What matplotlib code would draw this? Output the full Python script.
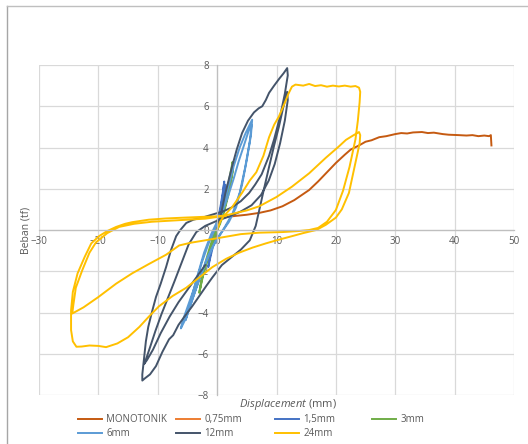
import matplotlib.pyplot as plt
import matplotlib as mpl
from matplotlib.lines import Line2D

mpl.rcParams['font.family'] = ['Open Sans', 'DejaVu Sans']
mpl.rcParams['mathtext.fontset'] = 'custom'
mpl.rcParams['mathtext.it'] = 'Open Sans:italic'
mpl.rcParams['mathtext.rm'] = 'Open Sans'

# ---- data: displacement (mm) vs load (tf) ----
mono_x = [0, 0.3, 0.8, 1.5, 3, 5, 7.1, 9, 11, 13, 15.5, 17, 18.5, 20, 21.5, 22.5, 23.9, 25,
          26, 27.3, 28.5, 30, 31, 32, 33, 34.5, 35.5, 36.5, 38, 39, 40.7, 42, 43, 44, 45,
          45.8, 46.1, 46.2]
mono_y = [0, 0.35, 0.55, 0.63, 0.68, 0.74, 0.83, 0.95, 1.15, 1.45, 1.94, 2.35, 2.8, 3.25, 3.65,
          3.9, 4.1, 4.28, 4.35, 4.5, 4.55, 4.65, 4.7, 4.68, 4.73, 4.75, 4.7, 4.72, 4.65, 4.62,
          4.6, 4.58, 4.6, 4.55, 4.58, 4.55, 4.6, 4.1]

c075_x = [0, 0.15, 0.3, 0.4, 0.25, 0.05, -0.15, -0.3, -0.25, -0.1, 0.05, 0.2, 0.35, 0.3,
          0.1, -0.1, -0.25]
c075_y = [0, 0.3, 0.55, 0.65, 0.4, 0.1, -0.2, -0.45, -0.3, -0.1, 0.1, 0.35, 0.55, 0.45,
          0.15, -0.15, -0.4]

c15_x = [0, 0.3, 0.7, 1.0, 1.2, 1.0, 0.6, 0.2, -0.3, -0.8, -1.2, -1.5, -1.2, -0.7, -0.2,
         0.3, 0.8, 1.2, 1.4, 1.1, 0.6, 0.1, -0.5, -1.0, -1.4]
c15_y = [0, 0.5, 1.2, 1.8, 2.35, 1.9, 1.2, 0.6, 0.1, -0.5, -1.1, -1.8, -1.4, -0.8, -0.2,
         0.4, 1.0, 1.7, 2.2, 1.6, 0.9, 0.3, -0.4, -1.0, -1.6]

c3_x = [0, 0.5, 1.0, 1.5, 2.0, 2.6, 2.5, 2.0, 1.4, 0.8, 0.2, -0.5, -1.2, -2.0, -2.6, -3.0,
        -2.6, -2.0, -1.3, -0.6, 0, 0.6, 1.2, 1.8, 2.3, 2.7, 2.5, 1.9, 1.2, 0.5, -0.3, -1.0,
        -1.8, -2.5, -2.9]
c3_y = [0, 0.6, 1.2, 1.8, 2.4, 3.3, 2.9, 2.0, 1.2, 0.6, 0.2, -0.2, -0.8, -1.6, -2.3, -3.05,
        -2.5, -1.8, -1.1, -0.5, 0, 0.5, 1.1, 1.8, 2.4, 3.0, 2.6, 1.7, 0.9, 0.3, -0.2, -0.8,
        -1.6, -2.3, -2.9]

c6_x = [0, 0.8, 1.8, 2.8, 3.8, 4.8, 5.9, 5.7, 5.0, 4.2, 3.2, 2.0, 0.8, -0.5, -1.8, -3.0,
        -4.2, -5.3, -6.1, -5.8, -4.7, -3.6, -2.6, -1.5, -0.3, 0.8, 1.8, 2.8, 3.6, 4.4, 5.3,
        5.8, 5.5, 4.7, 3.8, 2.6, 1.2, -0.2, -1.6, -2.9, -4.1, -5.3, -4.6, -3.4, -2.2, -1.0, 0]
c6_y = [0, 0.9, 2.0, 3.1, 4.0, 4.7, 5.35, 4.6, 3.4, 2.2, 1.1, 0.4, -0.1, -0.7, -1.5, -2.4,
        -3.4, -4.3, -4.77, -4.4, -3.5, -2.6, -1.6, -0.7, 0.1, 0.8, 1.6, 2.5, 3.3, 4.0, 4.8,
        5.1, 4.3, 3.0, 1.8, 0.8, 0.1, -0.5, -1.3, -2.3, -3.3, -4.37, -3.6, -2.3, -1.1, -0.2,
        0.4]

c12_x = [0, 0.6, 1.4, 2.5, 3.3, 4.2, 5.2, 6.2, 7.0, 7.6, 8.2, 8.75, 9.6, 10.5, 11.2, 11.8,
         11.9, 11.4, 10.6, 9.6, 8.75, 7.5, 6.4, 5.4, 4.0, 2.5, 1.0, -0.2, -2.5, -4.0, -5.2,
         -6.2, -6.9, -7.8, -8.6, -9.5, -10.3, -11.0, -11.6, -12.0, -12.3, -12.6, -12.6,
         -12.2, -11.3, -10.3, -9.2, -8.1, -7.4, -6.5, -5.5, -4.2, -3.0, -1.8, -0.8, 0.8, 2.5,
         4.0, 5.5, 6.5, 7.1, 7.9, 8.75, 9.6, 10.4, 11.1, 11.8,
         11.9, 11.4, 10.6, 9.7, 8.7, 7.4, 5.8, 4.0, 2.0, 0, -2.0, -3.5, -4.8, -6.0, -7.2,
         -8.3, -9.4, -10.4, -11.2, -11.9, -12.3, -11.8, -10.8, -9.5, -8.0, -6.5, -5.0, -3.5,
         -2.0]
c12_y = [0, 0.7, 1.8, 3.06, 3.9, 4.7, 5.3, 5.7, 5.9, 6.0, 6.3, 6.65, 7.0, 7.35, 7.6, 7.85,
         7.5, 6.6, 5.5, 4.4, 3.6, 2.7, 2.2, 1.8, 1.4, 1.1, 0.9, 0.8, 0.6, 0.5, 0.34, 0.0,
         -0.3, -1.0, -1.8, -2.6, -3.25, -4.0, -4.7, -5.4, -6.2, -7.0, -7.3,
         -7.2, -7.0, -6.6, -5.9, -5.3, -5.1, -4.6, -4.2, -3.7, -3.2, -2.7, -2.3, -1.7, -1.3,
         -0.95, -0.5, 0.2, 0.97, 2.0, 3.06, 4.1, 5.0, 5.9, 6.7,
         6.3, 5.3, 4.2, 3.2, 2.4, 1.7, 1.2, 0.9, 0.65, 0.45, 0.2, -0.1, -0.7, -1.6, -2.5,
         -3.3, -4.1, -4.9, -5.6, -6.2, -6.5, -6.3, -5.8, -5.0, -4.2, -3.5, -2.9, -2.3, -1.7]

c24_x = [0, 0.5, 1.2, 2.5, 4.2, 5.5, 6.6, 7.8, 8.75, 9.6, 10.4, 11.3, 12.0, 12.6, 13.2, 14.5,
         15.5, 16.5, 17.5, 18.5, 19.5, 20.5, 21.5, 22.5, 23.3, 23.9, 24.1,
         24.0, 23.7, 23.3, 22.3, 21.2, 20.0, 18.5, 17.0, 15.5, 13.8, 11.0, 7.1, 4.0, 1.0,
         -2.0, -4.5, -6.4, -8.6, -11.5, -14.3, -17.0, -20.0, -22.5, -24.4,
         -24.2, -23.8, -22.7, -21.5, -20.4, -18.5, -16.5, -14.0, -11.0, -8.0, -5.0, -2.0, 0.5,
         2.5, 5.0, 7.1, 10.0, 12.6, 15.5, 18.3, 20.5, 21.7, 23.0, 23.9, 24.1,
         24.0, 23.4, 22.2, 21.0, 20.0, 18.3, 16.7, 14.5, 12.6, 10.0, 8.2, 6.0, 3.7, 1.5, -0.8,
         -3.0, -5.2, -7.5, -9.8, -11.5, -13.1, -15.0, -16.8, -18.7, -20.0, -21.5, -22.8,
         -23.7, -24.3, -24.6,
         -24.6, -24.3, -23.5, -22.3, -21.2, -19.9, -18.5, -17.0, -15.5, -14.3, -11.5, -8.6,
         -5.5, -3.0, -0.5, 1.5]
c24_y = [0, 0.4, 0.7, 1.1, 1.8, 2.4, 2.8, 3.6, 4.5, 5.1, 5.5, 6.1, 6.6, 6.95, 7.05, 7.0,
         7.08, 6.98, 7.02, 6.95, 7.0, 6.96, 7.0, 6.95, 6.98, 6.9, 6.7,
         6.2, 5.3, 4.4, 3.06, 1.9, 0.97, 0.4, 0.1, 0.0, -0.05, -0.1, -0.13, -0.2, -0.35,
         -0.5, -0.62, -0.75, -1.2, -1.65, -2.1, -2.6, -3.25, -3.75, -4.05,
         -3.6, -2.8, -1.94, -1.1, -0.6, -0.15, 0.15, 0.3, 0.4, 0.45, 0.5, 0.55, 0.65,
         0.78, 0.95, 1.15, 1.6, 2.1, 2.75, 3.5, 4.05, 4.37, 4.6, 4.75, 4.6,
         4.2, 3.4, 1.8, 1.0, 0.6, 0.25, 0.0, -0.15, -0.3, -0.5, -0.65, -0.85, -1.1, -1.4, -1.8,
         -2.3, -2.8, -3.2, -3.7, -4.2, -4.7, -5.2, -5.5, -5.68, -5.62, -5.6, -5.65,
         -5.66, -5.4, -4.85,
         -3.9, -3.0, -2.1, -1.3, -0.65, -0.3, -0.05, 0.15, 0.3, 0.38, 0.5, 0.56,
         0.6, 0.63, 0.66, 0.7]

series = [
    ('MONOTONIK', mono_x, mono_y, '#C55A11'),
    ('0,75mm', c075_x, c075_y, '#ED7D31'),
    ('1,5mm', c15_x, c15_y, '#4472C4'),
    ('3mm', c3_x, c3_y, '#70AD47'),
    ('6mm', c6_x, c6_y, '#5B9BD5'),
    ('12mm', c12_x, c12_y, '#44546A'),
    ('24mm', c24_x, c24_y, '#FFC000'),
]

fig = plt.figure(figsize=(5.28, 4.44), dpi=100)
ax = fig.add_axes([39 / 528, 1 - 395 / 444, 475 / 528, 330 / 444])

handles = {}
for name, xs, ys, col in series:
    h, = ax.plot(xs, ys, color=col, lw=1.4, label=name, solid_joinstyle='round')
    handles[name] = h

ax.set_xlim(-30, 50)
ax.set_ylim(-8, 8)
ax.set_xticks(range(-30, 51, 10))
ax.set_yticks(range(-8, 9, 2))
ax.grid(True, color='#D9D9D9', lw=0.9)
ax.set_axisbelow(True)

for s in ['top', 'right']:
    ax.spines[s].set_visible(False)
ax.spines['left'].set_position(('data', 0))
ax.spines['bottom'].set_position(('data', 0))
for s in ['left', 'bottom']:
    ax.spines[s].set_color('#BFBFBF')
    ax.spines[s].set_linewidth(0.9)
ax.tick_params(axis='both', length=0, labelsize=7, labelcolor='#595959')
ax.tick_params(axis='y', pad=6)
ax.tick_params(axis='x', pad=4)

ax.set_xlabel(r'$\it{Displacement}$ (mm)', fontsize=8, color='#595959')
ax.xaxis.set_label_coords(0.525, -0.006)
ax.set_ylabel('Beban (tf)', fontsize=7.5, color='#595959')
ax.yaxis.set_label_coords(-0.016, 0.5)

# legend: four fixed-width columns, filled row by row
columns = [['MONOTONIK', '6mm'], ['0,75mm', '12mm'], ['1,5mm', '24mm'], ['3mm']]
col_left = [75, 173, 272, 369]
for names, x0 in zip(columns, col_left):
    leg = fig.legend([handles[k] for k in names], names, loc='upper left',
                     bbox_to_anchor=(x0 / 528, 1 - 411 / 444), frameon=False, fontsize=7,
                     handlelength=2.5, handletextpad=0.4, labelspacing=0.35,
                     borderaxespad=0, borderpad=0.3)
    for t in leg.get_texts():
        t.set_color('#595959')

# outer chart frame
fig.add_artist(Line2D([7 / 528, 7 / 528], [0, 1 - 6 / 444], color='#A6A6A6', lw=1.0))
fig.add_artist(Line2D([7 / 528, 1], [1 - 6 / 444, 1 - 6 / 444], color='#BFBFBF', lw=1.0))

fig.savefig('out.png', dpi=100)
